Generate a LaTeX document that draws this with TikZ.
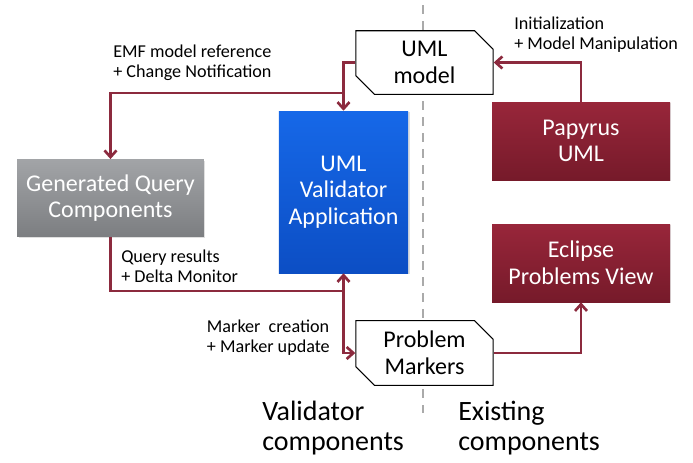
\documentclass[tikz,border=0pt]{standalone}
\usepackage{fontspec}
\setmainfont{Carlito}
\usetikzlibrary{arrows.meta,shapes.misc,shadows}
\definecolor{linkred}{RGB}{140,42,62}
\definecolor{divgray}{RGB}{170,170,170}
\begin{document}
\begin{tikzpicture}[x=0.75pt,y=-0.75pt]
        \useasboundingbox (0,0) rectangle (693,462);
        \draw[divgray,line width=2.2pt,dash pattern=on 7pt off 5pt] (423,5) -- (423,413);
        \begin{scope}[every node/.style={rectangle,text=white,align=center,font=\fontsize{18}{20}\selectfont,
            drop shadow={shadow xshift=1pt,shadow yshift=-1pt,opacity=0.25}}]
          \node[top color={rgb,255:red,162;green,164;blue,167},bottom color={rgb,255:red,124;green,126;blue,129},
                minimum width=140pt,minimum height=58pt] (G) at (110.5,198) {Generated Query\\Components};
          \node[top color={rgb,255:red,22;green,104;blue,232},bottom color={rgb,255:red,12;green,78;blue,196},
                minimum width=97pt,minimum height=121.5pt] (V) at (343.5,192) {UML\\Validator\\Application};
          \node[top color={rgb,255:red,152;green,38;blue,58},bottom color={rgb,255:red,118;green,26;blue,42},
                minimum width=133.5pt,minimum height=58.5pt] (P) at (581,141) {Papyrus\\UML};
          \node[top color={rgb,255:red,152;green,38;blue,58},bottom color={rgb,255:red,118;green,26;blue,42},
                minimum width=133.5pt,minimum height=58.5pt] (E) at (581,263) {Eclipse\\Problems View};
        \end{scope}
        \begin{scope}[every node/.style={chamfered rectangle,chamfered rectangle corners={north east,south west},
            chamfered rectangle xsep=7pt,chamfered rectangle ysep=7pt,draw=black,thick,fill=white,align=center,
            inner sep=1pt,minimum width=103pt,minimum height=44pt,font=\fontsize{18}{20}\selectfont}]
          \node (M) at (424.5,62.5) {UML\\model};
          \node (K) at (424.5,353) {Problem\\Markers};
        \end{scope}
        \begin{scope}[every node/.style={align=left,inner sep=0pt,font=\fontsize{13.6}{15}\selectfont}]
          \node[anchor=west] (emf) at (113,63) {EMF model reference\\+ Change Notification};
          \node[anchor=west] (init) at (514,34.5) {Initialization\\+ Model Manipulation};
          \node[anchor=west] (res) at (121,266) {Query results\\+ Delta Monitor};
          \node[anchor=east] (mark) at (330,337.5) {Marker\ \ creation\\+ Marker update};
          \node[anchor=west,font=\fontsize{21}{22.5}\selectfont] (vc) at (262,428) {Validator\\components};
          \node[anchor=west,font=\fontsize{21}{22.5}\selectfont] (ec) at (458,428) {Existing\\components};
        \end{scope}
        \coordinate (j1) at (343.5,93);
        \coordinate (j2) at (343.5,291);
        \begin{scope}[every path/.style={draw=linkred,line width=2pt,-{Straight Barb[length=5pt,width=9pt]}}]
          \path (M.west) -| (V.north);
          \path (j1) -| (G.north);
          \path (P.north) |- (M.east);
          \path (G.south) |- (j2) -- (V.south);
          \path (j2) |- (K.west);
          \path (K.east) -| (E.south);
        \end{scope}
      \end{tikzpicture}
\end{document}
